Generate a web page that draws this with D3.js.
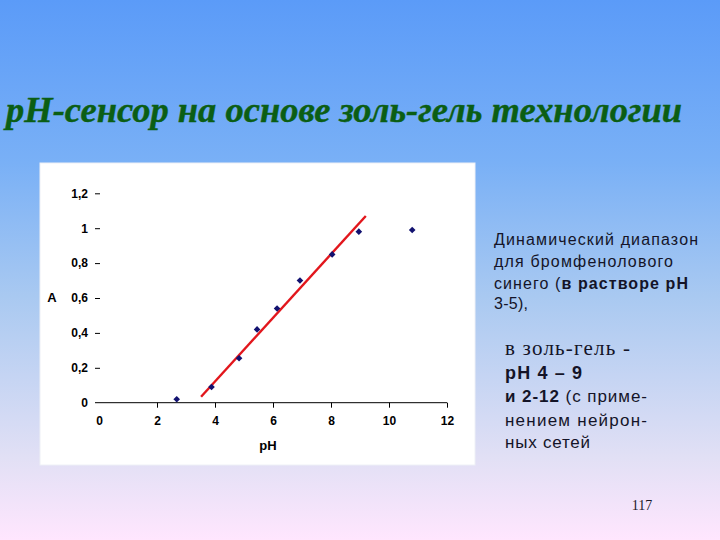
<!DOCTYPE html>
<html><head><meta charset="utf-8">
<script src="https://cdn.jsdelivr.net/npm/d3@7"></script>
<style>html,body{margin:0;padding:0;overflow:hidden}svg{display:block}</style>
</head><body>
<svg id="c" width="720" height="540"></svg>
<script>
// data
const phValues = [2.68, 3.88, 4.83, 5.45, 6.14, 6.93, 8.04, 8.96, 10.8];
const absValues = [0.02, 0.09, 0.255, 0.42, 0.54, 0.70, 0.85, 0.98, 0.99];
const fitLinePH = [3.52, 9.2];
const fitSlope = 0.1824, fitIntercept = -0.608;
const xTicks = [0, 2, 4, 6, 8, 10, 12];
const yTicks = [0, 0.2, 0.4, 0.6, 0.8, 1, 1.2];
const yTickLabels = ["0", "0,2", "0,4", "0,6", "0,8", "1", "1,2"];

const svg = d3.select("#c");
const defs = svg.append("defs");
const g = defs.append("linearGradient").attr("id","bg").attr("x1",0).attr("y1",0).attr("x2",0).attr("y2",1);
[[0,"#5b9bf8"],[0.3,"#79b0f6"],[0.55,"#a9c9f1"],[0.85,"#e2e0f5"],[1,"#ffe6fe"]].forEach(s=>g.append("stop").attr("offset",s[0]).attr("stop-color",s[1]));
svg.append("rect").attr("width",720).attr("height",540).attr("fill","url(#bg)");

// title
svg.append("text").attr("x",6).attr("y",122)
  .attr("font-family","'Liberation Serif','Times New Roman',serif")
  .attr("font-style","italic").attr("font-weight","bold").attr("font-size",36)
  .attr("fill","#0b5e14").attr("stroke","#0b5e14").attr("stroke-width",0.4)
  .attr("textLength",676).attr("lengthAdjust","spacingAndGlyphs")
  .text("pH-сенсор на основе золь-гель технологии");

// plot panel
svg.append("rect").attr("x",40).attr("y",163).attr("width",435).attr("height",302)
  .attr("fill","#ffffff").attr("stroke","#eef0f6").attr("stroke-width",1);

const x = d3.scaleLinear().domain([0,12]).range([99,447]);
const y = d3.scaleLinear().domain([0,1.2]).range([402.7,193.3]);

const fontSans = "'Liberation Sans',Arial,sans-serif";

// x axis
const xAxis = svg.append("g").attr("transform",`translate(0,${y(0)})`)
  .call(d3.axisBottom(x).tickValues(xTicks).tickSize(5).tickPadding(9).tickSizeOuter(0));
xAxis.select(".domain").attr("stroke","#000").attr("d",`M95,0H${x(12)}`);
xAxis.selectAll(".tick line").attr("stroke","#000");
xAxis.selectAll(".tick").filter(d=>d===0).select("line").remove();
xAxis.selectAll("text").attr("font-family",fontSans).attr("font-weight","bold").attr("font-size",12).attr("fill","#000");

// y axis (ticks only)
const yAxis = svg.append("g").attr("transform",`translate(95,0)`)
  .call(d3.axisRight(y).tickValues(yTicks).tickSize(5).tickFormat((d,i)=>yTickLabels[i]));
yAxis.select(".domain").remove();
yAxis.selectAll(".tick line").attr("stroke","#000");
yAxis.selectAll(".tick").filter(d=>d===0).select("line").remove();
yAxis.selectAll("text").attr("x",-7).attr("text-anchor","end")
  .attr("font-family",fontSans).attr("font-weight","bold").attr("font-size",12).attr("fill","#000");

// axis titles
svg.append("text").attr("x",268).attr("y",450).attr("text-anchor","middle")
  .attr("font-family",fontSans).attr("font-weight","bold").attr("font-size",13).text("pH");
svg.append("text").attr("x",52).attr("y",302).attr("text-anchor","middle")
  .attr("font-family",fontSans).attr("font-weight","bold").attr("font-size",13).text("A");

// fit line
const line = d3.line().x(d=>x(d)).y(d=>y(fitSlope*d+fitIntercept));
svg.append("path").attr("d",line(fitLinePH)).attr("stroke","#e2161c").attr("stroke-width",2.4).attr("fill","none");

// points (diamond markers)
const pts = phValues.map((v,i)=>[v,absValues[i]]);
svg.append("g").selectAll("path").data(pts).join("path")
  .attr("d",d3.symbol(d3.symbolSquare, 22)())
  .attr("transform",d=>`translate(${x(d[0])},${y(d[1])}) rotate(45)`)
  .attr("fill","#121270");

// right text
const tx = svg.append("g").attr("font-family",fontSans).attr("fill","#141428");
const addLine = (xp, yp, size, len, parts, serif) => {
  const t = tx.append("text").attr("x",xp).attr("y",yp).attr("font-size",size)
    .attr("textLength",len).attr("lengthAdjust","spacing");
  if (serif) t.attr("font-family","'Liberation Serif','Times New Roman',serif");
  parts.forEach(p => t.append("tspan").attr("font-weight", p[1] ? "bold" : null).text(p[0]));
};
addLine(494, 245, 16, 204, [["Динамический диапазон",0]]);
addLine(494, 267, 16, 179, [["для бромфенолового",0]]);
addLine(494, 289, 16, 194, [["синего (",0],["в растворе рН",1]]);
addLine(494, 309, 16, 34, [["3-5),",0]]);
addLine(505, 355, 21, 125, [["в золь-гель -",0]], true);
addLine(505, 379, 18, 77, [["рН 4 – 9",1]]);
addLine(505, 402, 17, 142, [["и 2-12",1],[" (с приме-",0]]);
addLine(505, 426, 17, 142, [["нением нейрон-",0]]);
addLine(505, 448, 17, 85, [["ных сетей",0]]);

svg.append("text").attr("x",642).attr("y",510).attr("text-anchor","middle")
  .attr("font-family","'Liberation Serif','Times New Roman',serif").attr("font-size",14).attr("fill","#1a1a2a").text("117");
</script>
</body></html>
